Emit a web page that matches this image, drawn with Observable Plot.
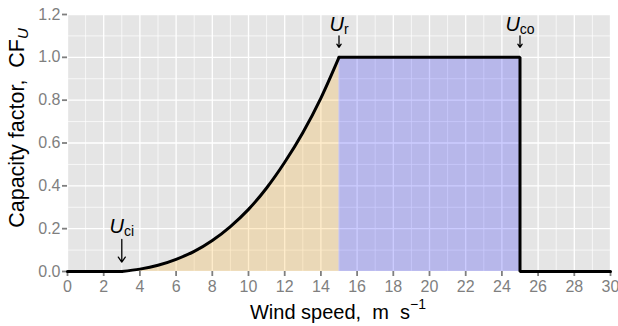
<!DOCTYPE html>
<html><head><meta charset="utf-8">
<script src="https://cdn.jsdelivr.net/npm/d3@7"></script>
<script src="https://cdn.jsdelivr.net/npm/@observablehq/plot@0.6"></script>
<style>
body{margin:0;background:#fff;}
#chart svg{font-family:"Liberation Sans",Arial,sans-serif;background:#fff;}
</style></head><body><div id="chart"></div>
<script>
// Data
const lowSpeed  = [0, 3];
const lowCF     = [0, 0];
const rampSpeed = [3, 4, 5, 6, 7, 8, 9, 10, 11, 12, 13, 14, 15];
const rampCF    = [0, 0.011, 0.029, 0.057, 0.094, 0.145, 0.21, 0.29, 0.39, 0.51, 0.648, 0.81, 1.0];
const ratedSpeed = [15, 25, 25, 30];
const ratedCF    = [1, 1, 0, 0];
const fullSpeed = [15, 25];
const fullCF    = [1, 1];
const markSpeed = [3, 15, 25];
const markSub   = ["ci", "r", "co"];
const markLabelY = [0.18, 1.122, 1.122];
const markTop   = [0.15, 1.10, 1.10];
const markTip   = [0.044, 1.047, 1.047];
const xTicks = [0, 2, 4, 6, 8, 10, 12, 14, 16, 18, 20, 22, 24, 26, 28, 30];
const xMinor = [1, 3, 5, 7, 9, 11, 13, 15, 17, 19, 21, 23, 25, 27, 29];
const yTicks = [0, 0.2, 0.4, 0.6, 0.8, 1.0, 1.2];
const yMinor = [0.1, 0.3, 0.5, 0.7, 0.9, 1.1];

const low = lowSpeed.map((x, i) => ({x, y: lowCF[i]}));
const ramp = rampSpeed.map((x, i) => ({x, y: rampCF[i]}));
const rated = ratedSpeed.map((x, i) => ({x, y: ratedCF[i]}));
const full = fullSpeed.map((x, i) => ({x, y: fullCF[i]}));
const marks = markSpeed.map((x, i) => ({x, sub: markSub[i], ly: markLabelY[i], top: markTop[i], tip: markTip[i]}));

const gray = "#7f7f7f";
const chart = Plot.plot({
  width: 618, height: 326,
  marginLeft: 67, marginRight: 8, marginTop: 14, marginBottom: 55,
  x: {domain: [0, 30]},
  y: {domain: [0, 1.2]},
  marks: [
    Plot.frame({fill: "#e5e5e5", stroke: "none"}),
    Plot.gridX(xMinor, {stroke: "white", strokeOpacity: 1, strokeWidth: 0.7}),
    Plot.gridY(yMinor, {stroke: "white", strokeOpacity: 1, strokeWidth: 0.7}),
    Plot.gridX(xTicks, {stroke: "white", strokeOpacity: 1, strokeWidth: 1.3}),
    Plot.gridY(yTicks, {stroke: "white", strokeOpacity: 1, strokeWidth: 1.3}),
    Plot.areaY(ramp, {x: "x", y: "y", fill: "orange", fillOpacity: 0.2, curve: "monotone-x"}),
    Plot.areaY(full, {x: "x", y: "y", fill: "blue", fillOpacity: 0.2}),
    Plot.axisX(xTicks, {color: gray, fontSize: 16, tickSize: 5, tickPadding: 4, strokeWidth: 1.8, label: null}),
    Plot.axisY(yTicks, {color: gray, fontSize: 16, tickSize: 5, tickPadding: 2, strokeWidth: 1.8, label: null, tickFormat: d => d.toFixed(1)}),
    Plot.line(low, {x: "x", y: "y", stroke: "black", strokeWidth: 3, strokeLinecap: "round"}),
    Plot.line(ramp, {x: "x", y: "y", stroke: "black", strokeWidth: 3, curve: "monotone-x", strokeLinecap: "round"}),
    Plot.line(rated, {x: "x", y: "y", stroke: "black", strokeWidth: 3, strokeLinejoin: "miter", strokeLinecap: "round"}),
    Plot.arrow(marks, {x1: "x", x2: "x", y1: "top", y2: "tip", stroke: "black", strokeWidth: 1.3, headLength: 7, headAngle: 70}),
    Plot.text(marks, {x: "x", y: "ly", text: d => "U" + d.sub, fontSize: 20, fill: "black", textAnchor: "middle", lineAnchor: "bottom"})
  ]
});
document.getElementById("chart").appendChild(chart);

const svg = d3.select(chart);
svg.selectAll("text").each(function() {
  const s = this.textContent;
  if (!/^U(ci|r|co)$/.test(s)) return;
  while (this.firstChild) this.removeChild(this.firstChild);
  const t = d3.select(this);
  t.append("tspan").attr("font-style", "italic").text(s.slice(0, 1));
  t.append("tspan").attr("font-size", 14).attr("dy", "0.22em").text(s.slice(1));
});

// Axis titles
const xt = svg.append("text")
  .attr("x", 338).attr("y", 319)
  .attr("text-anchor", "middle").attr("font-size", 20).attr("fill", "black");
xt.append("tspan").text("Wind speed,\u00a0 m\u00a0 s");
xt.append("tspan").attr("font-size", 14).attr("dy", -10).text("\u22121");

const yt = svg.append("text")
  .attr("transform", "translate(24,128) rotate(-90)")
  .attr("text-anchor", "middle").attr("font-size", 21.5).attr("fill", "black");
yt.append("tspan").text("Capacity factor,\u00a0\u00a0CF");
yt.append("tspan").attr("font-size", 15).attr("font-style", "italic").attr("dy", 4).text("U");
</script></body></html>
